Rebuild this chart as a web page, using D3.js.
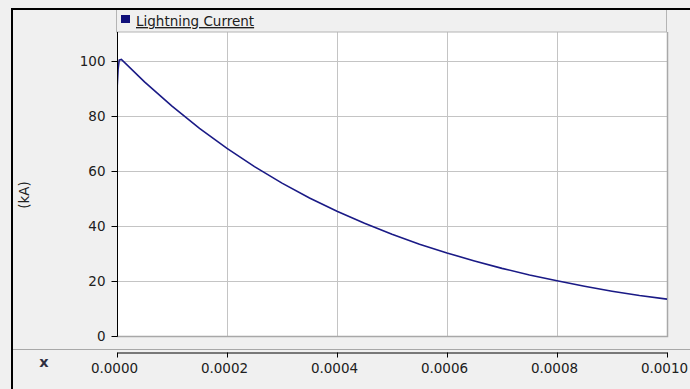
<!DOCTYPE html>
<html>
<head>
<meta charset="utf-8">
<script src="https://cdn.jsdelivr.net/npm/d3@7"></script>
<style>
  body { margin: 0; background: #f0f0f0; }
  svg { display: block; }
  svg text { font-family: "DejaVu Sans", sans-serif; font-size: 13.5px; }
</style>
</head>
<body>
<div id="chart"></div>
<script>
// values (time in s, current in kA)
const time = [0, 0.0000005, 0.000002, 0.000004, 0.000008, 0.00005, 0.0001, 0.00015, 0.0002,
  0.00025, 0.0003, 0.00035, 0.0004, 0.00045, 0.0005, 0.00055, 0.0006, 0.00065, 0.0007,
  0.00075, 0.0008, 0.00085, 0.0009, 0.00095, 0.001];
const current = [56, 91, 97, 100.3, 100.6, 92.4, 83.6, 75.5, 68.2,
  61.6, 55.6, 50.2, 45.4, 41.0, 37.0, 33.4, 30.2, 27.3, 24.6,
  22.2, 20.1, 18.1, 16.3, 14.7, 13.4];
const xTicks = [0, 0.0002, 0.0004, 0.0006, 0.0008, 0.001];
const yTicks = [0, 20, 40, 60, 80, 100];
const seriesName = "Lightning Current";

const W = 690, H = 389;
const plot = {left: 117, right: 667, top: 32, bottom: 336};

const svg = d3.select("#chart").append("svg")
  .attr("width", W).attr("height", H);

svg.append("rect").attr("width", W).attr("height", H).attr("fill", "#f0f0f0");

const x = d3.scaleLinear().domain([0, 0.001]).range([plot.left, plot.right]);
const y = d3.scaleLinear().domain([0, 110.55]).range([plot.bottom, plot.top]);

// plot area
svg.append("rect")
  .attr("x", plot.left).attr("y", plot.top)
  .attr("width", plot.right - plot.left).attr("height", plot.bottom - plot.top)
  .attr("fill", "#fff");

// grid
svg.append("g").selectAll("line").data(xTicks.slice(1, -1)).join("line")
  .attr("x1", d => Math.round(x(d)) + 0.5).attr("x2", d => Math.round(x(d)) + 0.5)
  .attr("y1", plot.top).attr("y2", plot.bottom)
  .attr("stroke", "#c4c4c4");
svg.append("g").selectAll("line").data(yTicks.slice(1)).join("line")
  .attr("x1", plot.left).attr("x2", plot.right)
  .attr("y1", d => Math.round(y(d)) + 0.5).attr("y2", d => Math.round(y(d)) + 0.5)
  .attr("stroke", "#c4c4c4");

// plot border (right + bottom)
svg.append("path")
  .attr("d", `M${plot.right + 0.5},${plot.top}V${plot.bottom + 0.5}H${plot.left}`)
  .attr("fill", "none").attr("stroke", "#a8a8a8").attr("stroke-width", 1.5);

// legend header
svg.append("rect")
  .attr("x", plot.left - 0.5).attr("y", 9.5)
  .attr("width", plot.right - plot.left).attr("height", plot.top - 9.5)
  .attr("fill", "#f0f0f0").attr("stroke", "#b4b4b4");
svg.append("rect").attr("x", 121).attr("y", 15).attr("width", 9).attr("height", 8)
  .attr("fill", "#10107a");
svg.append("text").attr("x", 136).attr("y", 26)
  .text(seriesName).attr("fill", "#202020")
  .style("text-decoration", "underline");

// line
svg.append("clipPath").attr("id", "clip").append("rect")
  .attr("x", plot.left).attr("y", plot.top)
  .attr("width", plot.right - plot.left + 1).attr("height", plot.bottom - plot.top);
const line = d3.line().x((d, i) => x(time[i])).y(d => y(d));
svg.append("path")
  .datum(current)
  .attr("clip-path", "url(#clip)")
  .attr("d", line)
  .attr("fill", "none").attr("stroke", "#1a1a86").attr("stroke-width", 1.6);

// y axis
const yAxis = svg.append("g")
  .attr("transform", `translate(${plot.left + 0.5},0)`)
  .call(d3.axisLeft(y).tickValues(yTicks).tickSize(6).tickPadding(6).tickSizeOuter(0))
  .attr("font-family", null).attr("font-size", null);
yAxis.select(".domain").attr("stroke", "#000").attr("d", `M0,${plot.top}V${plot.bottom + 0.5}`);
yAxis.selectAll("line").attr("stroke", "#000");
yAxis.selectAll("text").attr("fill", "#202020");

// separator
svg.append("line").attr("x1", 12).attr("x2", W).attr("y1", 349.5).attr("y2", 349.5)
  .attr("stroke", "#a8a8a8");

// x axis
const xAxis = svg.append("g")
  .attr("transform", "translate(0,352.5)")
  .call(d3.axisBottom(x).tickValues(xTicks).tickFormat(d3.format(".4f"))
    .tickSize(5).tickPadding(6).tickSizeOuter(0))
  .attr("font-family", null).attr("font-size", null);
xAxis.select(".domain").attr("stroke", "#000");
xAxis.selectAll("line").attr("stroke", "#000");
xAxis.selectAll("text").attr("fill", "#202020").attr("dx", -3);

svg.append("text").attr("x", 44).attr("y", 367).attr("text-anchor", "middle")
  .text("x").style("font-weight", "bold").style("font-size", "14.5px").attr("fill", "#303040");

svg.append("text")
  .attr("transform", "translate(29,195) rotate(-90)")
  .attr("text-anchor", "middle")
  .text("(kA)").attr("fill", "#202020");

// frame (top + left black edge)
svg.append("path").attr("d", `M12,${H}V9H${W}`)
  .attr("fill", "none").attr("stroke", "#000").attr("stroke-width", 2);
</script>
</body>
</html>
